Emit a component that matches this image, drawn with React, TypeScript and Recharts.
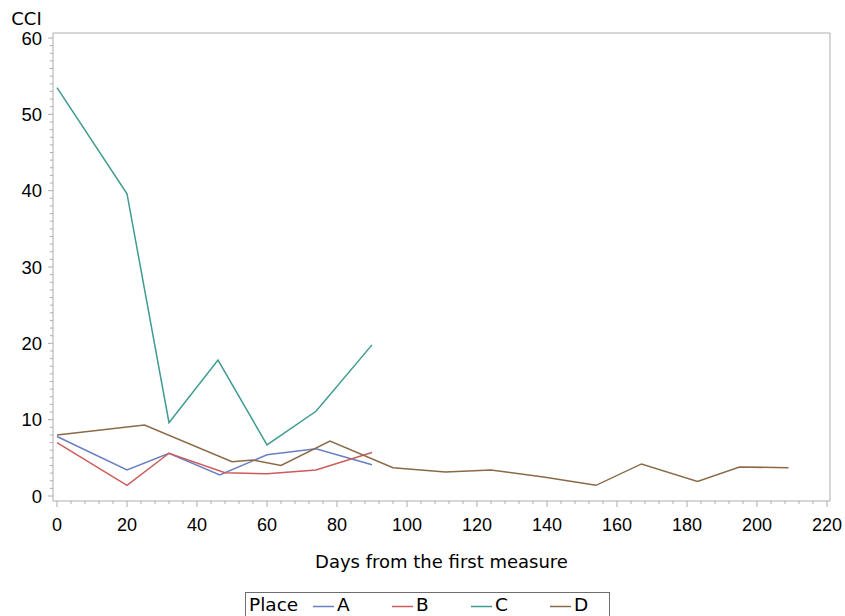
import React from 'react';
import { LineChart, Line, XAxis, YAxis, Legend } from 'recharts';

// Days from the first measure and CCI per place
const daysA = [0, 20, 32, 46.5, 60, 74, 90];
const cciA = [7.8, 3.4, 5.6, 2.75, 5.4, 6.2, 4.1];

const daysB = [0, 20, 32, 48, 60, 74, 90];
const cciB = [7.0, 1.4, 5.6, 3.05, 2.9, 3.4, 5.7];

const daysC = [0, 20, 32, 46, 60, 74, 90];
const cciC = [53.5, 39.6, 9.6, 17.8, 6.7, 11.1, 19.8];

const daysD = [0, 25, 50, 56, 64, 78, 96, 111, 124, 139, 154, 167, 183, 195, 209];
const cciD = [8.0, 9.3, 4.5, 4.7, 4.0, 7.2, 3.7, 3.15, 3.4, 2.5, 1.4, 4.2, 1.9, 3.8, 3.7];

const places = ['A', 'B', 'C', 'D'];
const colors = ['#6a7ec0', '#cc5c5c', '#3d9b91', '#8a6a46'];

const xTicks = Array.from({ length: 56 }, (_, i) => i * 4);
const yTicks = Array.from({ length: 61 }, (_, i) => i);

const toRows = (days: number[], cci: number[]) => days.map((d, i) => ({ day: d, cci: cci[i] }));

const series = [
  toRows(daysA, cciA),
  toRows(daysB, cciB),
  toRows(daysC, cciC),
  toRows(daysD, cciD),
];

const NUM_FONT = '"Liberation Sans", Arial, sans-serif';
const TXT_FONT = '"DejaVu Sans", Verdana, sans-serif';
const AXIS = '#a9adb2';

const YTick = (props: any) => {
  const { x, y, payload } = props;
  const major = payload.value % 10 === 0;
  return (
    <g>
      <line x1={x} x2={x - (major ? 5 : 3)} y1={y} y2={y} stroke={AXIS} />
      {major && (
        <text x={x - 11} y={y} dy="0.36em" textAnchor="end" fontSize={18.5} fill="#000" fontFamily={NUM_FONT}>
          {payload.value}
        </text>
      )}
    </g>
  );
};

const XTick = (props: any) => {
  const { x, y, payload } = props;
  const major = payload.value % 20 === 0;
  return (
    <g>
      <line x1={x} x2={x} y1={y} y2={y + (major ? 6 : 3)} stroke={AXIS} />
      {major && (
        <text x={x} y={y + 30} textAnchor="middle" fontSize={18} fill="#000" fontFamily={NUM_FONT}>
          {payload.value}
        </text>
      )}
    </g>
  );
};

const PlaceLegend = () => (
  <div
    style={{
      position: 'relative',
      width: 363,
      height: 26,
      border: '1px solid #6e6e6e',
      fontFamily: TXT_FONT,
      fontSize: 18.5,
      color: '#000',
      background: '#fff',
    }}
  >
    <span style={{ position: 'absolute', left: 3, top: 1 }}>Place</span>
    {places.map((p, i) => (
      <React.Fragment key={p}>
        <svg style={{ position: 'absolute', left: 67 + i * 79, top: 12 }} width={21} height={3}>
          <line x1={0} x2={21} y1={1.5} y2={1.5} stroke={colors[i]} strokeWidth={1.5} />
        </svg>
        <span style={{ position: 'absolute', left: 91 + i * 79, top: 1 }}>{p}</span>
      </React.Fragment>
    ))}
  </div>
);

export default function App() {
  return (
    <div style={{ position: 'absolute', left: 0, top: 0, background: '#fff' }}>
      <LineChart width={845} height={616} margin={{ top: 32, right: 14, left: 0, bottom: 0 }}>
        <XAxis
          dataKey="day"
          type="number"
          domain={[0, 220]}
          ticks={xTicks}
          interval={0}
          allowDuplicatedCategory={false}
          padding={{ left: 4, right: 3 }}
          height={115}
          tickSize={0}
          tickMargin={0}
          tickLine={false}
          axisLine={{ stroke: AXIS }}
          tick={<XTick />}
          label={{
            value: 'Days from the first measure',
            position: 'insideTop',
            offset: 54,
            fontSize: 18,
            fill: '#000',
            fontFamily: TXT_FONT,
          }}
        />
        <XAxis
          xAxisId="top"
          orientation="top"
          type="number"
          domain={[0, 220]}
          height={1}
          tick={false}
          tickLine={false}
          axisLine={{ stroke: AXIS }}
        />
        <YAxis
          dataKey="cci"
          type="number"
          domain={[0, 60]}
          ticks={yTicks}
          interval={0}
          padding={{ top: 5, bottom: 5 }}
          width={53}
          tickSize={0}
          tickMargin={0}
          tickLine={false}
          axisLine={{ stroke: AXIS }}
          tick={<YTick />}
          label={{ value: 'CCI', position: 'top', offset: 8, fontSize: 18, fill: '#000', fontFamily: TXT_FONT }}
        />
        <YAxis
          yAxisId="right"
          orientation="right"
          type="number"
          domain={[0, 60]}
          width={1}
          tick={false}
          tickLine={false}
          axisLine={{ stroke: AXIS }}
        />
        <Legend
          layout="horizontal"
          verticalAlign="middle"
          align="center"
          wrapperStyle={{ position: 'absolute', left: 245, top: 592, width: 365, height: 28 }}
          content={<PlaceLegend />}
        />
        {series.map((rows, i) => (
          <Line
            key={places[i]}
            name={places[i]}
            data={rows}
            dataKey="cci"
            type="linear"
            stroke={colors[i]}
            strokeWidth={1.5}
            dot={false}
            activeDot={false}
            isAnimationActive={false}
          />
        ))}
      </LineChart>
    </div>
  );
}
